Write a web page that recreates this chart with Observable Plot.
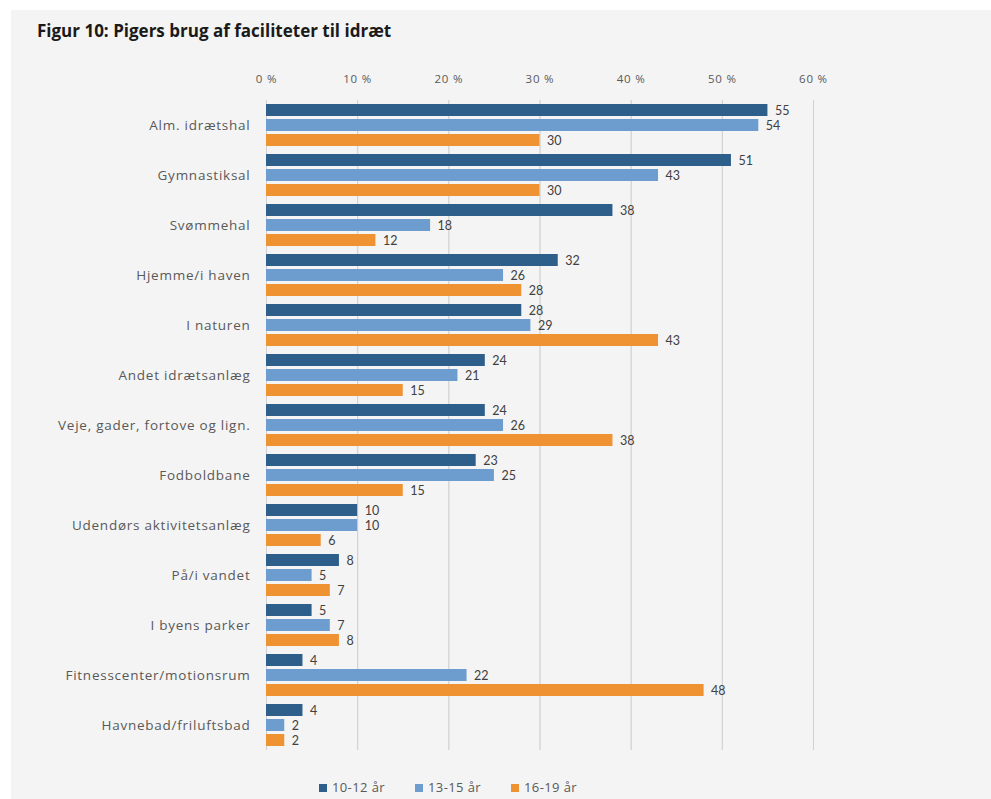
<!DOCTYPE html>
<html>
<head>
<meta charset="utf-8">
<script src="https://cdn.jsdelivr.net/npm/d3@7"></script>
<script src="https://cdn.jsdelivr.net/npm/@observablehq/plot@0.6"></script>
<style>
  html, body { margin: 0; padding: 0; background: #ffffff; width: 991px; height: 799px; overflow: hidden; }
  #panel { position: absolute; left: 11px; top: 10px; width: 980px; height: 789px; background: #f4f4f4; }
  #title { position: absolute; left: 37px; top: 19px; font-family: "Open Sans", sans-serif; font-weight: bold; font-size: 17px; color: #1a1a1a; }
  #chart { position: absolute; left: 0; top: 50px; }
  #legend { position: absolute; left: 0; width: 896px; top: 778px; display: flex; justify-content: center; gap: 30px; font-family: "Open Sans", sans-serif; font-size: 13px; letter-spacing: 0.4px; color: #595959; }
  #legend span.sw { display: inline-block; width: 8px; height: 8px; margin-right: 5px; vertical-align: 0px; }
</style>
</head>
<body>
<div id="panel"></div>
<div id="title">Figur 10: Pigers brug af faciliteter til idræt</div>
<div id="chart"></div>
<div id="legend"></div>
<script>
const categories = [
  "Alm. idrætshal",
  "Gymnastiksal",
  "Svømmehal",
  "Hjemme/i haven",
  "I naturen",
  "Andet idrætsanlæg",
  "Veje, gader, fortove og lign.",
  "Fodboldbane",
  "Udendørs aktivitetsanlæg",
  "På/i vandet",
  "I byens parker",
  "Fitnesscenter/motionsrum",
  "Havnebad/friluftsbad"
];
const seriesNames = ["10-12 år", "13-15 år", "16-19 år"];
const age10_12 = [55, 51, 38, 32, 28, 24, 24, 23, 10, 8, 5, 4, 4];
const age13_15 = [54, 43, 18, 26, 29, 21, 26, 25, 10, 5, 7, 22, 2];
const age16_19 = [30, 30, 12, 28, 43, 15, 38, 15, 6, 7, 8, 48, 2];
const xTicks = [0, 10, 20, 30, 40, 50, 60];
const colors = ["#2d5f8a", "#6c9dce", "#ef9232"];

const seriesValues = [age10_12, age13_15, age16_19];
const data = [];
categories.forEach((c, i) => {
  seriesNames.forEach((s, j) => {
    data.push({category: c, series: s, value: seriesValues[j][i]});
  });
});

const chart = Plot.plot({
  width: 991,
  height: 704,
  marginLeft: 266,
  marginRight: 178,
  marginTop: 48,
  marginBottom: 2,
  style: {fontFamily: "'Open Sans', sans-serif", fontSize: "13.5px", color: "#595959", background: "transparent"},
  x: {domain: [0, 60], ticks: xTicks, axis: "top", tickSize: 0, tickPadding: 18, grid: true, label: null, tickFormat: d => d + " %"},
  y: {domain: seriesNames, axis: null, paddingInner: 0.22, paddingOuter: 0.25},
  fy: {domain: categories, label: null, tickSize: 0, tickPadding: 16, padding: 0},
  color: {domain: seriesNames, range: colors},
  marks: [
    Plot.gridX(xTicks, {stroke: "#d0d0d0", strokeOpacity: 1}),
    Plot.barX(data, {fy: "category", y: "series", x: "value", fill: "series"}),
    Plot.text(data, {fy: "category", y: "series", x: "value", text: d => String(d.value), textAnchor: "start", dx: 7, fill: "#404040", fontSize: 12.5, fontFamily: "Lato, sans-serif"})
  ]
});
document.getElementById("chart").appendChild(chart);
// axis styling tweaks
chart.querySelectorAll("g[aria-label='fy-axis tick label']").forEach(el => el.setAttribute("letter-spacing", "0.75"));
chart.querySelectorAll("g[aria-label='x-axis tick label']").forEach(el => { el.setAttribute("font-size", "11.5"); el.setAttribute("letter-spacing", "0.8"); });

const legend = document.getElementById("legend");
seriesNames.forEach((s, j) => {
  const item = document.createElement("div");
  item.innerHTML = `<span class="sw" style="background:${colors[j]}"></span>${s}`;
  legend.appendChild(item);
});
</script>
</body>
</html>
